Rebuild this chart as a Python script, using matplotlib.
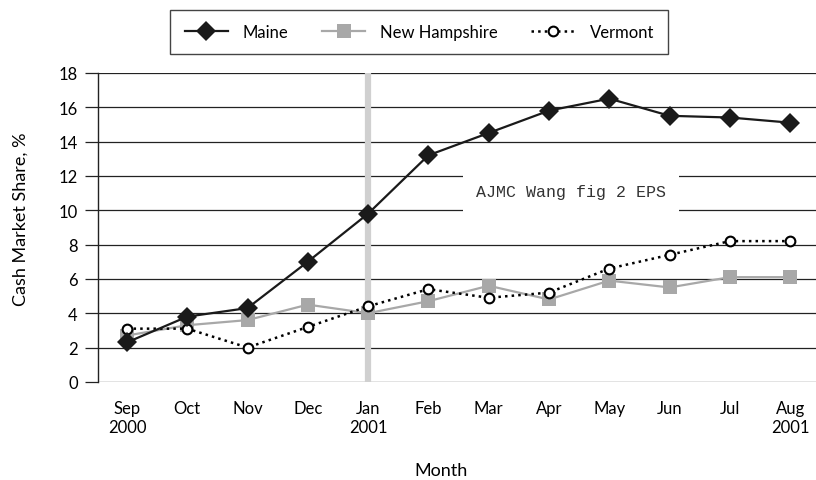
import matplotlib
matplotlib.use("Agg")
import matplotlib.pyplot as plt
from matplotlib.patches import Rectangle

plt.rcParams['font.family'] = ['Lato', 'DejaVu Sans']

# data
months = ["Sep\n2000", "Oct", "Nov", "Dec", "Jan\n2001", "Feb", "Mar",
          "Apr", "May", "Jun", "Jul", "Aug\n2001"]
maine = [2.3, 3.8, 4.3, 7.0, 9.8, 13.2, 14.5, 15.8, 16.5, 15.5, 15.4, 15.1]
new_hampshire = [2.7, 3.3, 3.6, 4.5, 4.0, 4.7, 5.6, 4.8, 5.9, 5.5, 6.1, 6.1]
vermont = [3.1, 3.1, 2.0, 3.2, 4.4, 5.4, 4.9, 5.2, 6.6, 7.4, 8.2, 8.2]
yticks = list(range(0, 20, 2))
marker_month = 4  # Jan 2001 highlighted

fig = plt.figure(figsize=(8.16, 4.81), dpi=100)
ax = fig.add_axes([0.1201, 0.204, 0.88, 0.6424])

x = list(range(len(months)))

# horizontal grid lines
ax.set_ylim(0, 18)
ax.set_xlim(-0.48, 11.43)
ax.set_yticks(yticks)
ax.yaxis.grid(True, color='#222222', linewidth=0.9, zorder=0)
ax.set_axisbelow(True)

# vertical gray band at Jan 2001
ax.axvline(marker_month, color='#d0d0d0', linewidth=4.5, zorder=1)

# label box covering grid lines
ax.add_patch(Rectangle((5.58, 9.6), 3.57, 2.8, facecolor='white',
                       edgecolor='none', zorder=2))
ax.text(7.36, 11.07, "AJMC Wang fig 2 EPS", family='Liberation Mono',
        fontsize=12, ha='center', va='center', color='#333333', zorder=3)

ax.plot(x, new_hampshire, color='#a8a8a8', linewidth=1.6, marker='s',
        markersize=10.5, markeredgewidth=0, label='New Hampshire', zorder=4)
ax.plot(x, vermont, color='black', linewidth=1.8, linestyle=':', marker='o',
        markersize=7, markerfacecolor='white', markeredgecolor='black',
        markeredgewidth=1.5, label='Vermont', zorder=5)
ax.plot(x, maine, color='#1a1a1a', linewidth=1.6, marker='D',
        markersize=10.5, markeredgewidth=0, label='Maine', zorder=6)

ax.set_xticks(x)
ax.set_xticklabels(months, fontsize=12)
ax.tick_params(axis='x', length=0, pad=13)
ax.tick_params(axis='y', length=9.5, width=0.9, color='#222222',
               labelsize=12, pad=5)

for side in ['top', 'right', 'bottom']:
    ax.spines[side].set_visible(False)
ax.spines['left'].set_color('#222222')
ax.spines['left'].set_linewidth(1.0)

ax.set_ylabel("Cash Market Share, %", fontsize=13)
ax.yaxis.set_label_coords(-0.097, 0.53)
ax.set_xlabel("Month", fontsize=13)
ax.xaxis.set_label_coords(0.478, -0.258)

handles, labels = ax.get_legend_handles_labels()
order = [2, 0, 1]
leg = fig.legend([handles[i] for i in order], [labels[i] for i in order],
                 loc='center', bbox_to_anchor=(0.514, 0.932), ncol=3,
                 fontsize=12, frameon=True, fancybox=False, framealpha=1,
                 edgecolor='#444444', handlelength=2.6, handletextpad=0.9,
                 columnspacing=2.0, borderpad=0.85)
leg.get_frame().set_linewidth(1.0)

fig.savefig("out.png", dpi=100)
